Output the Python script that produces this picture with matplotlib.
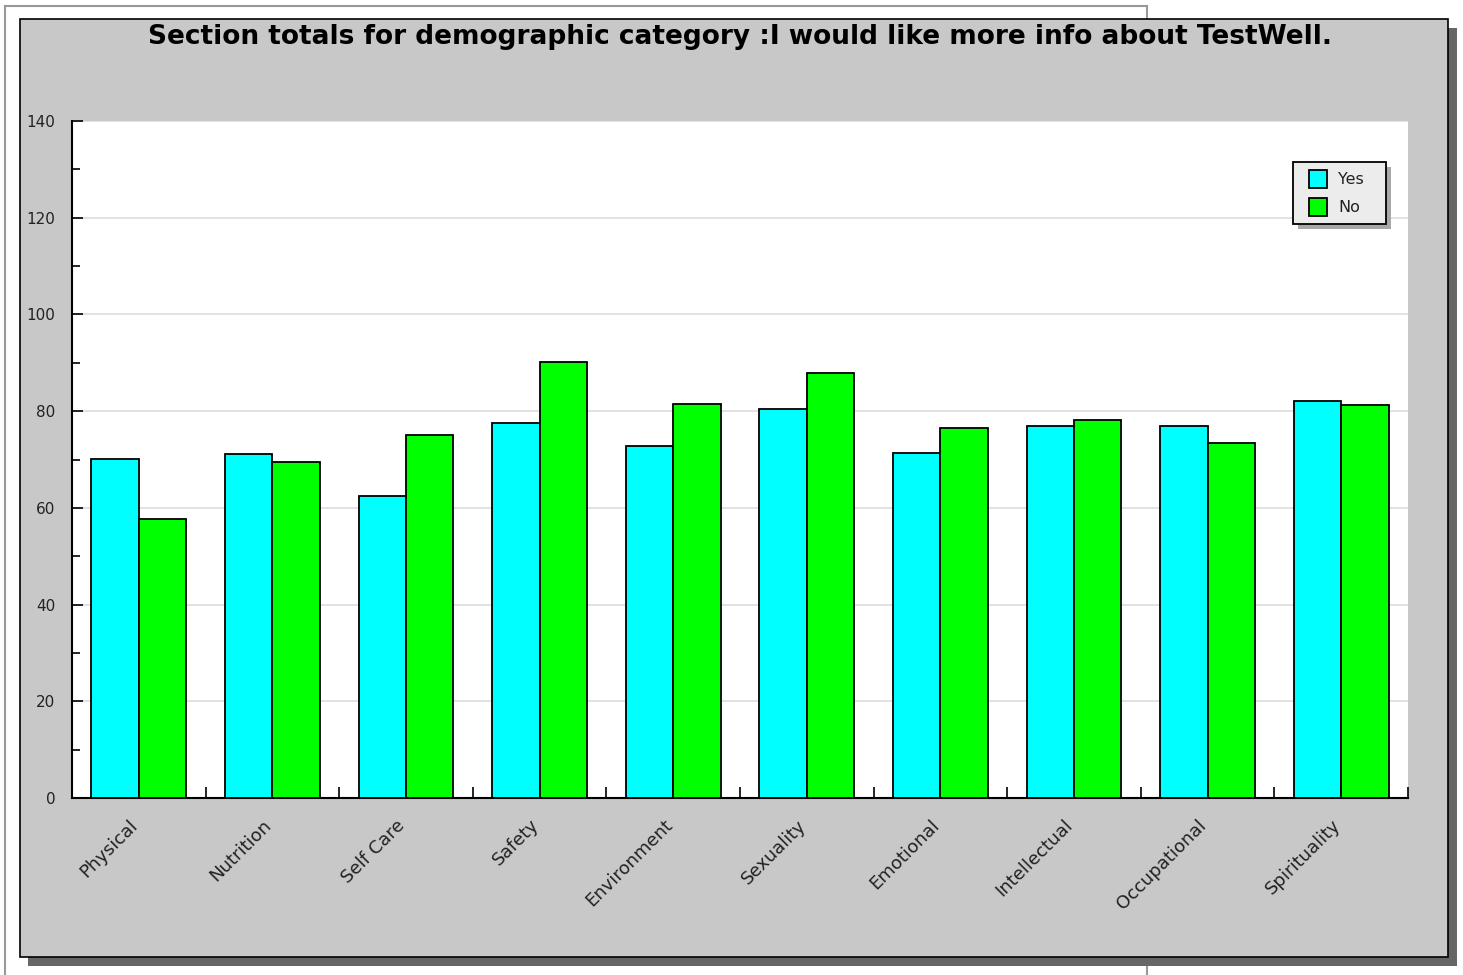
import matplotlib
matplotlib.use("Agg")
import matplotlib.pyplot as plt
import numpy as np
from matplotlib.patches import Rectangle
from matplotlib.lines import Line2D
from matplotlib.transforms import ScaledTranslation

categories = ["Physical", "Nutrition", "Self Care", "Safety", "Environment",
              "Sexuality", "Emotional", "Intellectual", "Occupational", "Spirituality"]
yes_vals = [70.2, 71.2, 62.5, 77.5, 72.7, 80.4, 71.3, 76.9, 76.9, 82.1]
no_vals = [57.6, 69.5, 75.1, 90.1, 81.5, 87.8, 76.6, 78.2, 73.4, 81.3]
series_names = ["Yes", "No"]
series_colors = ["#00FFFF", "#00FF00"]
title = "Section totals for demographic category :I would like more info about TestWell."

W, H = 1463, 975
fig = plt.figure(figsize=(W / 100, H / 100), dpi=100)
fig.patch.set_facecolor("white")

def fx(px):
    return px / W

def fy(py):
    return 1 - py / H

# page border lines
for xs, ys in [([5, 1147], [6, 6]), ([5, 5], [6, 975]), ([1147, 1147], [6, 19]), ([1147, 1147], [966, 975])]:
    fig.add_artist(Line2D([fx(v) for v in xs], [fy(v) for v in ys], color="#999999", lw=1.5,
                          transform=fig.transFigure, zorder=0))

# panel shadow and panel
fig.add_artist(Rectangle((fx(28), fy(966)), fx(1457) - fx(28), fy(28) - fy(966),
                         transform=fig.transFigure, facecolor="#666666", edgecolor="none", zorder=1))
fig.add_artist(Rectangle((fx(20), fy(957)), fx(1448) - fx(20), fy(19) - fy(957),
                         transform=fig.transFigure, facecolor="#C8C8C8", edgecolor="black", lw=1.2, zorder=2))

ax = fig.add_axes([fx(72), fy(798), fx(1408) - fx(72), fy(121) - fy(798)])
ax.set_zorder(3)
ax.set_facecolor("white")

x = np.arange(len(categories))
bw = 0.355
ax.bar(x - bw / 2, yes_vals, bw, color=series_colors[0], edgecolor="black", lw=1.3, zorder=3)
ax.bar(x + bw / 2, no_vals, bw, color=series_colors[1], edgecolor="black", lw=1.3, zorder=3)

ax.set_xlim(-0.5, len(categories) - 0.5)
ax.set_ylim(0, 140)
ax.set_yticks(np.arange(0, 141, 20))
ax.set_yticks(np.arange(0, 141, 10), minor=True)
ax.grid(axis="y", which="major", color="#E2E2E2", lw=1.4, zorder=0)
ax.set_axisbelow(True)

ax.tick_params(axis="x", which="major", direction="in", length=8, width=1.2, color="black")
ax.tick_params(axis="x", which="minor", length=0, pad=13)
ax.tick_params(axis="y", which="major", direction="in", length=8, width=1.2, labelsize=11,
               pad=12, labelcolor="#222222")
ax.tick_params(axis="y", which="minor", direction="in", length=6, width=1.2)

ax.set_xticks(np.arange(-0.5, len(categories), 1.0))
ax.set_xticklabels([])
ax.set_xticks(x, minor=True)
ax.set_xticklabels(categories, minor=True, rotation=45, ha="right", va="top",
                   fontsize=13, color="#222222", rotation_mode="anchor")
shift = ScaledTranslation(-10 / 100, 0, fig.dpi_scale_trans)
for lbl in ax.get_xticklabels(minor=True):
    lbl.set_transform(lbl.get_transform() + shift)

for s in ["top", "right"]:
    ax.spines[s].set_visible(False)
for s in ["left", "bottom"]:
    ax.spines[s].set_color("black")
    ax.spines[s].set_linewidth(1.5)

# legend drawn in pixel layout
def frect(x0, y0, x1, y1, **kw):
    r = Rectangle((fx(x0), fy(y1)), fx(x1) - fx(x0), fy(y0) - fy(y1), transform=fig.transFigure, **kw)
    fig.add_artist(r)
    return r

frect(1298, 167, 1391, 229, facecolor="#A8A8A8", edgecolor="none", zorder=6)
frect(1293, 162, 1386, 224, facecolor="#ECECEC", edgecolor="black", lw=1.3, zorder=7)
for i, (name, col) in enumerate(zip(series_names, series_colors)):
    top = 170 + 28 * i
    frect(1309, top, 1327, top + 18, facecolor=col, edgecolor="black", lw=1.3, zorder=8)
    fig.text(fx(1338), fy(top + 9), name, ha="left", va="center", fontsize=11.5,
             color="#222222", zorder=8)

fig.text(fx(740), fy(37), title, ha="center", va="center", fontsize=19, fontweight="bold",
         color="black", zorder=4)

fig.savefig("out.png", dpi=100, facecolor="white")
